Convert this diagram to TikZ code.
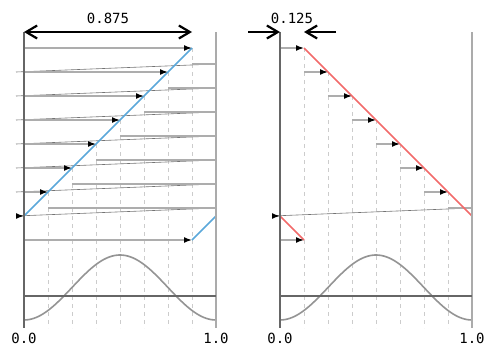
\documentclass[tikz,border=0pt]{standalone}
\usepackage{fontspec}
\setmonofont{DejaVu Sans Mono}
\usetikzlibrary{arrows.meta}
\definecolor{blueline}{HTML}{5BA8DA}
\definecolor{redline}{HTML}{F26A6A}
\begin{document}
\begin{tikzpicture}[x=1pt,y=-1pt,
 axisdark/.style={draw=black!60, line width=1.6pt},
 axislight/.style={draw=black!33, line width=1.6pt},
 gridline/.style={draw=black!20, line width=1pt, dash pattern=on 4pt off 4pt},
 feed/.style={draw=black!32, line width=1.5pt, -{Latex[black,length=8pt,width=6pt]}},
 wrapline/.style={draw=black!32, line width=1.5pt},
 slant/.style={draw=black!55, line width=0.6pt},
 dimline/.style={draw=black, line width=2.2pt, -{Straight Barb[length=11pt,width=13pt]}},
 wave/.style={draw=black!42, line width=1.6pt},
 lbl/.style={font=\ttfamily\fontsize{14}{14}\selectfont, inner sep=0pt},
]
\useasboundingbox (0,0) rectangle (496,356);
% ---------- left panel ----------
\foreach \k in {1,...,7}{
  \draw[gridline] ({216-24*\k},{24+24*\k}) -- ({216-24*\k},328);
  \draw[slant] (16,{24*\k+48}) -- (216,{24*\k+40});
  \draw[wrapline] ({216-24*\k},{24*\k+40}) -- (216,{24*\k+40});
}
\draw[wave,domain=0:1,samples=80] plot ({24+192*\x},{320-32.5*(1-cos(360*\x))});
\draw[blueline, line width=1.6pt] (24,216) -- (192,48);
\draw[blueline, line width=1.6pt] (192,240) -- (216,216);
\foreach \k in {1,...,7}{
  \draw[feed] (24,{24+24*\k}) -- ({216-24*\k},{24+24*\k});
}
\draw[feed] (16,216) -- (24,216);
\draw[feed] (24,240) -- (192,240);
\coordinate (la0) at (24,32); \coordinate (la1) at (24,328);
\coordinate (lb0) at (216,32); \coordinate (lb1) at (216,328);
\draw[axisdark] (la0) -- (la1);
\draw[axislight] (lb0) -- (lb1);
\draw[axisdark] (24,296) -- (216,296);
\coordinate (ldm) at (108,32);
\draw[dimline] (ldm) -- (24,32);
\draw[dimline] (ldm) -- (192,32);
\node[lbl] (lt) at (108,18) {0.875};
\node[lbl] (l0) at (24,338) {0.0};
\node[lbl] (l1) at (216,338) {1.0};
% ---------- right panel ----------
\foreach \k in {1,...,7}{
  \draw[gridline] ({280+24*\k},{24+24*\k}) -- ({280+24*\k},328);
}
\draw[slant] (272,216) -- (472,208);
\draw[wrapline] (448,208) -- (472,208);
\draw[wave,domain=0:1,samples=80] plot ({280+192*\x},{320-32.5*(1-cos(360*\x))});
\draw[redline, line width=1.6pt] (304,48) -- (472,216);
\draw[redline, line width=1.6pt] (280,216) -- (304,240);
\draw[feed] (280,48) -- (304,48);
\foreach \k in {1,...,6}{
  \draw[feed] ({280+24*\k},{48+24*\k}) -- ({304+24*\k},{48+24*\k});
}
\draw[feed] (272,216) -- (280,216);
\draw[feed] (280,240) -- (304,240);
\draw[axisdark] (280,32) -- (280,328);
\draw[axislight] (472,32) -- (472,328);
\draw[axisdark] (280,296) -- (472,296);
\draw[dimline] (248,32) -- (280,32);
\draw[dimline] (336,32) -- (304,32);
\node[lbl] (rt) at (292,18) {0.125};
\node[lbl] (r0) at (280,338) {0.0};
\node[lbl] (r1) at (472,338) {1.0};
\end{tikzpicture}
\end{document}
